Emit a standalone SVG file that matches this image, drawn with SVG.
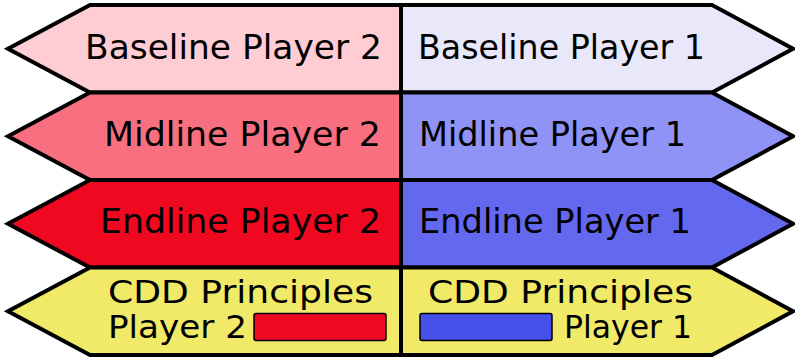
<svg xmlns="http://www.w3.org/2000/svg" width="795" height="358" viewBox="0 0 795 358">
<style>
.sh{stroke:#000;stroke-width:4;stroke-linejoin:miter}
.t{font-family:"DejaVu Sans","Liberation Sans",sans-serif;font-size:34px;fill:#000}
.t2{font-family:"DejaVu Sans","Liberation Sans",sans-serif;font-size:32px;fill:#000}
.sw{stroke:#000;stroke-width:1.5}
</style>
<rect width="795" height="358" fill="#fff"/>
<g id="baseline-p2">
<polygon class="sh" fill="#FDCDD3" points="401,5 90,5 8,48.75 90,92.5 401,92.5"/>
<text class="t" x="85" y="59" textLength="297" lengthAdjust="spacingAndGlyphs">Baseline Player 2</text>
</g>
<g id="baseline-p1">
<polygon class="sh" fill="#E8E8FA" points="401,5 712,5 793,48.75 712,92.5 401,92.5"/>
<text class="t" x="418" y="59" textLength="287" lengthAdjust="spacingAndGlyphs">Baseline Player 1</text>
</g>
<g id="midline-p2">
<polygon class="sh" fill="#F87080" points="401,92.5 90,92.5 8,136.25 90,180 401,180"/>
<text class="t" x="104" y="146" textLength="277" lengthAdjust="spacingAndGlyphs">Midline Player 2</text>
</g>
<g id="midline-p1">
<polygon class="sh" fill="#8F93F5" points="401,92.5 712,92.5 793,136.25 712,180 401,180"/>
<text class="t" x="419" y="146" textLength="267" lengthAdjust="spacingAndGlyphs">Midline Player 1</text>
</g>
<g id="endline-p2">
<polygon class="sh" fill="#F00820" points="401,180 90,180 8,223.75 90,267.5 401,267.5"/>
<text class="t" x="100" y="233" textLength="281" lengthAdjust="spacingAndGlyphs">Endline Player 2</text>
</g>
<g id="endline-p1">
<polygon class="sh" fill="#6468EE" points="401,180 712,180 793,223.75 712,267.5 401,267.5"/>
<text class="t" x="419" y="233" textLength="272" lengthAdjust="spacingAndGlyphs">Endline Player 1</text>
</g>
<g id="cdd-p2">
<polygon class="sh" fill="#F0EA68" points="401,267.5 90,267.5 8,311.25 90,355 401,355"/>
<text class="t2" x="108" y="303" textLength="265" lengthAdjust="spacingAndGlyphs">CDD Principles</text>
<text class="t2" x="108" y="338" textLength="139" lengthAdjust="spacingAndGlyphs">Player 2</text>
<rect class="sw" x="254" y="313.5" width="132" height="27" rx="2" fill="#F00820"/>
</g>
<g id="cdd-p1">
<polygon class="sh" fill="#F0EA68" points="401,267.5 712,267.5 793,311.25 712,355 401,355"/>
<text class="t2" x="428" y="303" textLength="265" lengthAdjust="spacingAndGlyphs">CDD Principles</text>
<rect class="sw" x="420" y="313.5" width="132" height="27" rx="2" fill="#4550E8"/>
<text class="t2" x="564" y="338" textLength="128" lengthAdjust="spacingAndGlyphs">Player 1</text>
</g>
<g id="connectors">
<line x1="401" y1="3" x2="401" y2="357" stroke="#000" stroke-width="4"/>
</g>
</svg>
